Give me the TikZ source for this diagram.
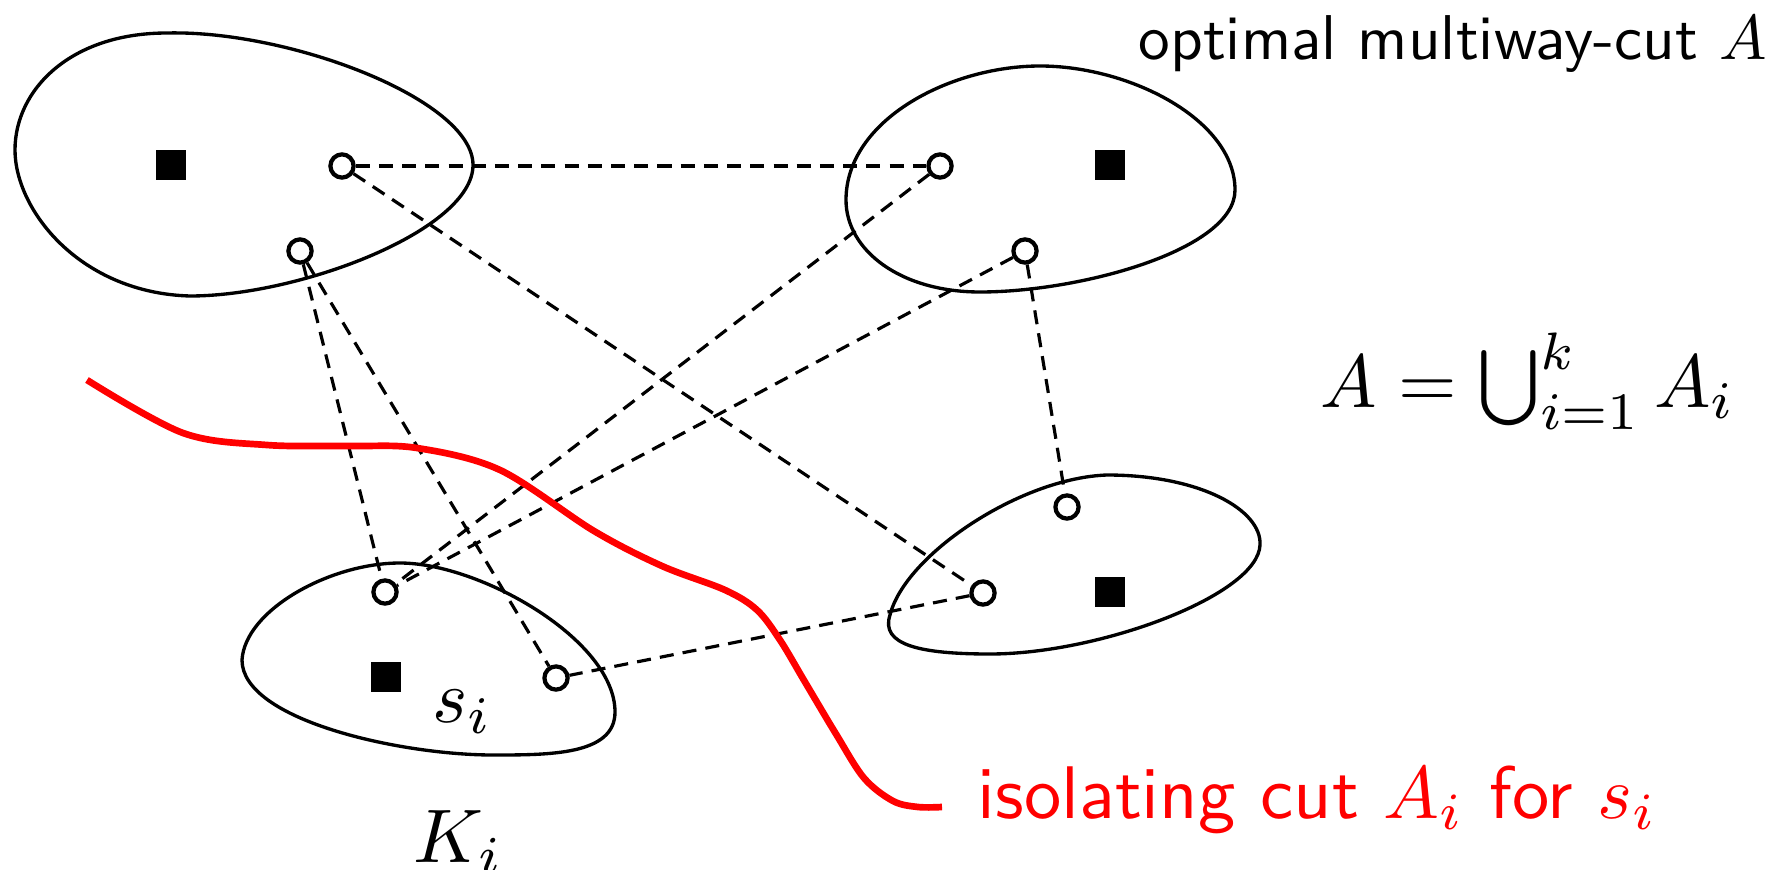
\documentclass[tikz,border=0pt]{standalone}
\usepackage{graphicx}
\begin{document}
\begin{tikzpicture}[x=0.01cm,y=-0.01cm,
  blob/.style={line width=0.95pt},
  cedge/.style={line width=0.9pt, dash pattern=on 4pt off 2.6pt},
  vtx/.style={circle, draw, fill=white, line width=1.2pt, minimum size=6.6pt, inner sep=0pt},
  term/.style={rectangle, fill=black, minimum size=8.4pt, inner sep=0pt},
  cutline/.style={red, line width=1.9pt},
  lbl/.style={anchor=base west, inner sep=0pt}]
\useasboundingbox (0,0) rectangle (1791,870);
% clusters
\draw[blob] (15,150) .. controls (15,90) and (70,33) .. (167,33)
  .. controls (290,30) and (473,100) .. (473,165)
  .. controls (473,230) and (300,296) .. (190,296)
  .. controls (80,293) and (15,210) .. (15,150) -- cycle;
\draw[blob] (846,200) .. controls (846,120) and (950,66) .. (1040,66)
  .. controls (1130,66) and (1235,120) .. (1235,190)
  .. controls (1235,250) and (1080,292) .. (980,292)
  .. controls (900,292) and (846,250) .. (846,200) -- cycle;
\draw[blob] (890,615) .. controls (905,555) and (1020,478) .. (1107,475)
  .. controls (1200,475) and (1262,510) .. (1260,545)
  .. controls (1258,595) and (1100,654) .. (990,654)
  .. controls (920,654) and (880,645) .. (890,615) -- cycle;
\draw[blob] (242,660) .. controls (245,610) and (330,563) .. (400,563)
  .. controls (480,563) and (615,640) .. (615,712)
  .. controls (615,755) and (550,755) .. (493,755)
  .. controls (400,755) and (242,720) .. (242,660) -- cycle;
% terminals
\node[term] (t1) at (171,165) {};
\node[term] (t2) at (1110,165) {};
\node[term] (t3) at (1110,592) {};
\node[term] (t4) at (386,677) {};
% vertices
\node[vtx] (a1) at (342,166) {};
\node[vtx] (a2) at (300,251) {};
\node[vtx] (b1) at (940,166) {};
\node[vtx] (b2) at (1025,251) {};
\node[vtx] (c1) at (1067,507) {};
\node[vtx] (c2) at (983,593) {};
\node[vtx] (d1) at (385,592) {};
\node[vtx] (d2) at (556,678) {};
% cut edges
\draw[cedge] (a1) -- (b1);
\draw[cedge] (a1) -- (c2);
\draw[cedge] (a2) -- (d1);
\draw[cedge] (a2) -- (d2);
\draw[cedge] (b1) -- (d1);
\draw[cedge] (b2) -- (d1);
\draw[cedge] (b2) -- (c1);
\draw[cedge] (c2) -- (d2);
% isolating cut curve
\draw[cutline] plot[smooth, tension=0.55] coordinates {(87,380) (183,433) (267,445) (350,446) (417,448) (500,470) (594,531) (662,566) (725,590) (757,610) (780,640) (805,682) (836,734) (864,778) (893,801) (918,807) (942,807)};
% labels
\node[lbl] (ttl) at (1138,60) {\scalebox{1.8}{\sffamily optimal multiway-cut $A$}};
\node[lbl] (frm) at (1320,407) {\scalebox{2.14}{$A = \bigcup_{i=1}^k A_i$}};
\node[lbl] (si) at (432,722) {\scalebox{2.14}{$s_i$}};
\node[lbl] (ki) at (413,862) {\scalebox{2.16}{$K_i$}};
\node[lbl, red] (iso) at (977,818) {\scalebox{2.12}{\sffamily isolating cut $A_i$ for $s_i$}};
\end{tikzpicture}
\end{document}
